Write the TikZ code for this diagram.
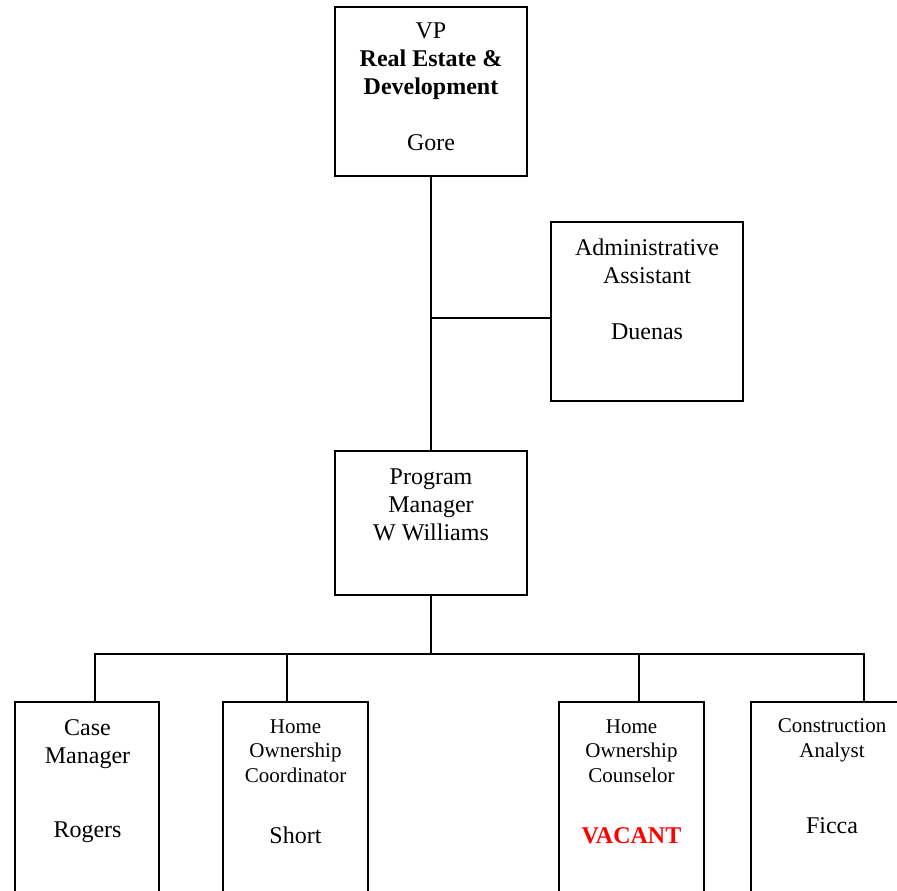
\documentclass[tikz,border=0pt]{standalone}
\usepackage{fontspec}
\setmainfont{Liberation Serif}
\usepackage{tikz}

\begin{document}
\begin{tikzpicture}[x=1pt,y=-1pt]
\tikzstyle{every node}+=[inner sep=0pt]
\tikzstyle{box}=[draw, line width=2pt, minimum width=192pt]
\tikzstyle{staff}=[draw, line width=2pt, minimum width=145pt, minimum height=196pt]
\tikzstyle{big}=[align=center, anchor=base, font=\fontsize{24}{28}\selectfont]
\tikzstyle{small}=[align=center, anchor=base, font=\fontsize{21}{24.5}\selectfont]
\tikzstyle{line}=[line width=2pt]
\useasboundingbox (0,0) rectangle (897,891);
\node [box, minimum height=169pt] (vp) at (431,91.5) {};
\node [big] (vpText) at (431,150) {VP\\\textbf{Real Estate \&}\\\textbf{Development}\\[28pt]Gore};
\node [box, minimum height=179pt] (admin) at (647,311.5) {};
\node [big] (adminText) at (647,339) {Administrative\\Assistant\\[28pt]Duenas};
\node [box, minimum height=144pt] (pm) at (431,523) {};
\node [big] (pmText) at (431,540) {Program\\Manager\\W Williams};
\node [staff, minimum width=144pt] (cm) at (87,800) {};
\node [big] (cmText) at (87.5,837) {Case\\Manager\\[46pt]Rogers};
\node [staff] (hoc) at (295.5,800) {};
\node [small] (hocText) at (295.5,782) {Home\\Ownership\\Coordinator};
\node [big] (hocName) at (295.5,843) {Short};
\node [staff] (hoz) at (631.5,800) {};
\node [small] (hozText) at (631.5,782) {Home\\Ownership\\Counselor};
\node [big, text=red] (hozName) at (631.5,843) {\textbf{VACANT}};
\node [staff, minimum width=162pt] (ca) at (832,800) {};
\node [small] (caText) at (832,757) {Construction\\Analyst};
\node [big] (caName) at (832,833) {Ficca};
\coordinate (bus) at (431,654);
\draw [line] (vp.south) -- (pm.north);
\draw [line] ([yshift=-6.5pt]admin.west) -- ([yshift=-6.5pt]admin.west -| vp.south);
\draw [line] (pm.south) -- (bus);
\draw [line] ([xshift=8pt]cm.north) |- (bus) -| ([xshift=32pt]ca.north);
\draw [line] ([xshift=-8.5pt]hoc.north) -- ([xshift=-8.5pt]hoc.north |- bus);
\draw [line] ([xshift=7.5pt]hoz.north) -- ([xshift=7.5pt]hoz.north |- bus);
\end{tikzpicture}
\end{document}
